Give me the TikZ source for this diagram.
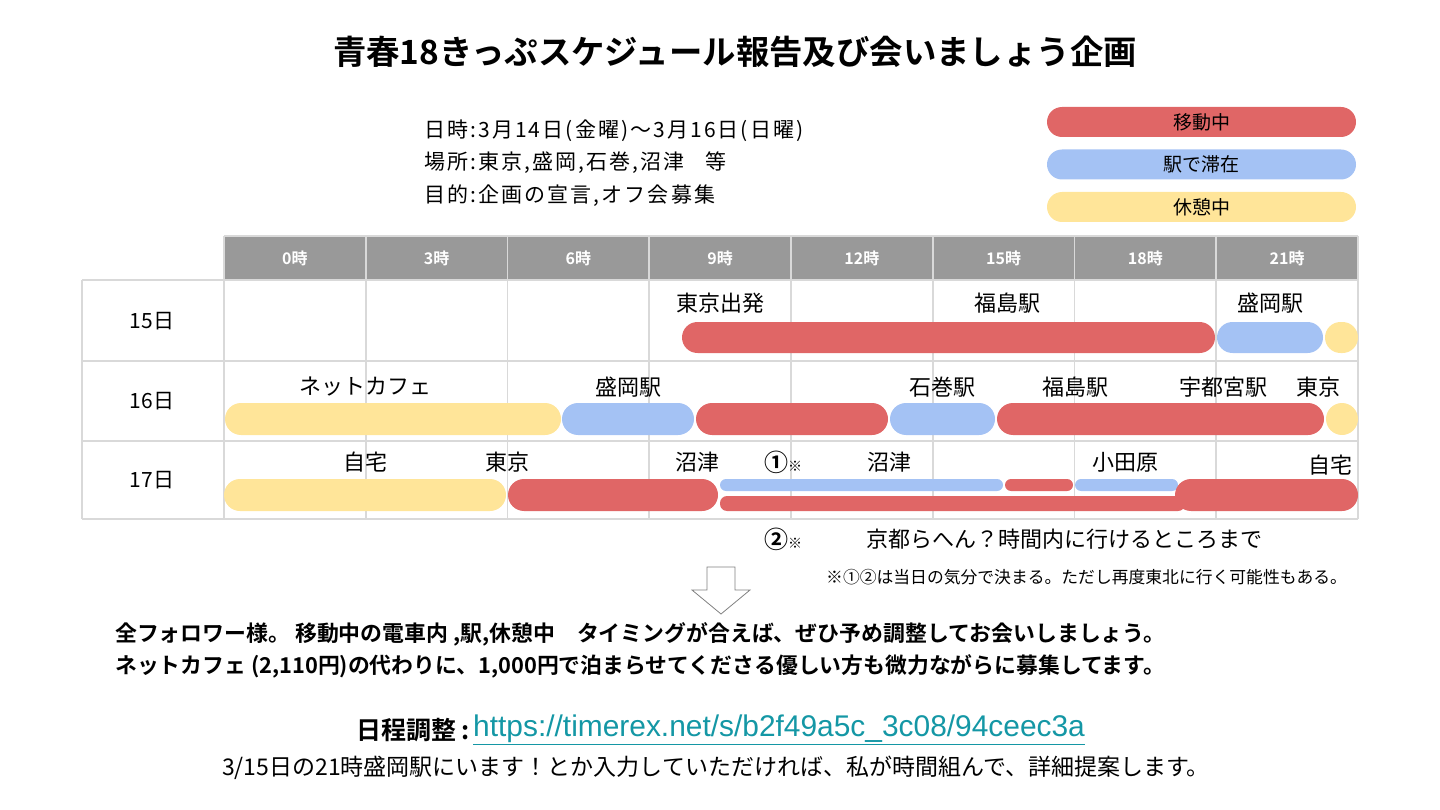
\documentclass[tikz,border=0pt]{standalone}
\usepackage{fontspec}
\usepackage{graphicx}
\setmainfont{Noto Sans CJK JP}[BoldFont={Noto Sans CJK JP Bold}]
\newfontfamily\urlfont{Liberation Sans}
\newfontfamily\wideinfo{Noto Sans CJK JP}[LetterSpace=10]
\definecolor{movered}{HTML}{E06666}
\definecolor{stayblue}{HTML}{A4C2F4}
\definecolor{restyellow}{HTML}{FFE599}
\definecolor{headgray}{HTML}{999999}
\definecolor{gridgray}{HTML}{D9D9D9}
\definecolor{linkteal}{HTML}{1497A5}
\newcommand\fsz[1]{\fontsize{#1}{#1}\selectfont}
\newcommand\fitline[1]{\resizebox{1050pt}{!}{#1}}
\tikzset{
  grid/.style={draw=gridgray, line width=1.6pt},
  move/.style={fill=movered},
  stay/.style={fill=stayblue},
  rest/.style={fill=restyellow},
  legend/.style={minimum width=309pt, minimum height=30pt, inner sep=0pt, rounded corners=15pt, font=\fsz{19}},
  lbl/.style={inner sep=0pt, font=\fsz{22}},
  info/.style={inner sep=0pt, anchor=west, font=\wideinfo\fsz{21}},
  day/.style={inner sep=0pt, font=\fsz{21}},
  hour/.style={inner sep=0pt, text=white, font=\bfseries\fsz{16}},
  msg/.style={inner sep=0pt, anchor=west, font=\bfseries\fsz{22}}
}
\begin{document}
\begin{tikzpicture}[x=1pt,y=-1pt]
\useasboundingbox (0,0) rectangle (1440,810);

\node[inner sep=0pt, font=\bfseries\fsz{33.4}] (title) at (735,52) {青春18きっぷスケジュール報告及び会いましょう企画};

\node[info] (date) at (424,131) {日時:3月14日(金曜)〜3月16日(日曜)};
\node[info] (place) at (424,163) {場所:東京,盛岡,石巻,沼津\quad 等};
\node[info] (goal) at (424,196) {目的:企画の宣言,オフ会募集};

\node[legend, move] (lmove) at (1201.5,122) {移動中};
\node[legend, stay] (lstay) at (1201.5,164.5) {駅で滞在};
\node[legend, rest] (lrest) at (1201.5,207) {休憩中};

\fill[headgray] (224,236) rectangle (1358,280);
\foreach \i in {0,...,8}
  \draw[grid] ({224+141.75*\i},236) -- ({224+141.75*\i},519);
\draw[grid] (224,236) -- (1358,236);
\foreach \y in {280,361,441,519}
  \draw[grid] (82,\y) -- (1358,\y);
\draw[grid] (82,280) -- (82,519);
\foreach \h [count=\i from 0] in {0,3,6,9,12,15,18,21}
  \node[hour] (h\h) at ({224+141.75*(\i+0.5)},258) {\h 時};

\node[day] (d15) at (152,321) {15日};
\node[day] (d16) at (152,401) {16日};
\node[day] (d17) at (152,480) {17日};

\fill[move, rounded corners=15.5pt] (682,322) rectangle (1215,353);
\fill[stay, rounded corners=15.5pt] (1217,322) rectangle (1323,353);
\fill[rest, rounded corners=15.5pt] (1325,322) rectangle (1358,353);
\node[lbl] (s15a) at (720,303) {東京出発};
\node[lbl] (s15b) at (1007,303) {福島駅};
\node[lbl] (s15c) at (1270,303) {盛岡駅};

\fill[rest, rounded corners=16pt] (225,403) rectangle (561,435);
\fill[stay, rounded corners=16pt] (562,403) rectangle (694,435);
\fill[move, rounded corners=16pt] (696,403) rectangle (888,435);
\fill[stay, rounded corners=16pt] (890,403) rectangle (995,435);
\fill[move, rounded corners=16pt] (997,403) rectangle (1324,435);
\fill[rest, rounded corners=16pt] (1326,403) rectangle (1358,435);
\node[lbl] (s16a) at (365,387) {ネットカフェ};
\node[lbl] (s16b) at (628,387) {盛岡駅};
\node[lbl] (s16c) at (942,387) {石巻駅};
\node[lbl] (s16d) at (1075,387) {福島駅};
\node[lbl] (s16e) at (1223,387) {宇都宮駅};
\node[lbl] (s16f) at (1318,387) {東京};

\fill[rest, rounded corners=16pt] (224,479) rectangle (506,511);
\fill[move, rounded corners=16pt] (508,479) rectangle (718,511);
\fill[stay, rounded corners=6pt] (720,479) rectangle (1003,491);
\fill[move, rounded corners=6pt] (1005,479) rectangle (1073,491);
\fill[stay, rounded corners=6pt] (1075,479) rectangle (1178,491);
\fill[move, rounded corners=7pt] (720,496) rectangle (1185,511);
\fill[move, rounded corners=16pt] (1175,479) rectangle (1358,511);
\node[lbl] (s17a) at (365,462) {自宅};
\node[lbl] (s17b) at (507,462) {東京};
\node[lbl] (s17c) at (697,462) {沼津};
\node[lbl] (s17d) at (783,462) {\textbf{\fsz{24}①}{\fsz{14}※}};
\node[lbl] (s17e) at (889,462) {沼津};
\node[lbl] (s17f) at (1125,462) {小田原};
\node[lbl] (s17g) at (1330,465) {自宅};

\node[lbl] (alt) at (783,539) {\textbf{\fsz{24}②}{\fsz{14}※}};
\node[lbl, anchor=west] (altx) at (866,539) {京都らへん？時間内に行けるところまで};
\node[inner sep=0pt, anchor=west, font=\fsz{16.8}] (note) at (826,577) {※①②は当日の気分で決まる。ただし再度東北に行く可能性もある。};

\draw[draw=gray, fill=white, line width=0.8pt] (707,567) -- (735,567) -- (735,590) -- (750,590) -- (721,614) -- (692,590) -- (707,590) -- cycle;

\node[msg] (msg1) at (115,634) {\fitline{全フォロワー様。 移動中の電車内 ,駅,休憩中\quad タイミングが合えば、ぜひ予め調整してお会いしましょう。}};
\node[msg] (msg2) at (115,666) {\fitline{ネットカフェ (2,110円)の代わりに、1,000円で泊まらせてくださる優しい方も微力ながらに募集してます。}};

\node[inner sep=0pt, anchor=east, font=\bfseries\fsz{25}] (sched) at (470,730) {日程調整 :};
\node[inner sep=0pt, anchor=west, text=linkteal, font=\urlfont\fsz{29.9}] (url) at (473,730) {\underline{https://timerex.net/s/b2f49a5c\_3c08/94ceec3a}};
\node[inner sep=0pt, font=\fsz{23}] (hint) at (716,768) {3/15日の21時盛岡駅にいます！とか入力していただければ、私が時間組んで、詳細提案します。};
\end{tikzpicture}
\end{document}
